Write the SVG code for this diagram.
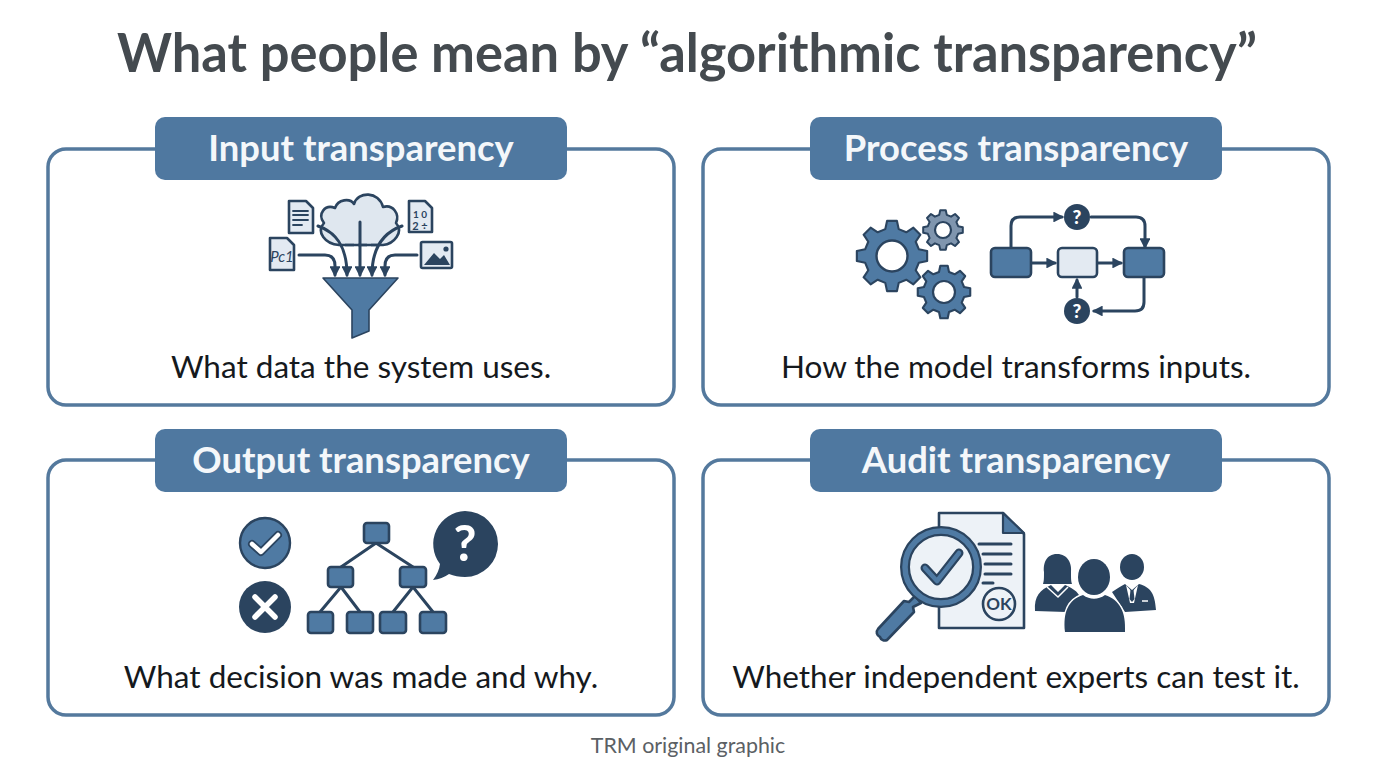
<svg xmlns="http://www.w3.org/2000/svg" width="1376" height="768" viewBox="0 0 1376 768">
<style>
text{font-family:"Lato","Noto Sans","Liberation Sans",sans-serif;text-anchor:middle}
.title{font-size:53px;font-weight:700;fill:#444a4f}
.hd{font-size:36.4px;font-weight:700;fill:#f4f7fa}
.cap{font-size:31.5px;font-weight:400;fill:#15191d}
.foot{font-size:21.4px;fill:#5b6064}
.card{fill:#fff;stroke:#54799d;stroke-width:3.5}
.hdr{fill:#4f78a0}
.o{stroke:#2b445f;stroke-width:2.6;stroke-linejoin:round;stroke-linecap:round}
.blue{fill:#4f7aa3}.pale{fill:#e3eaf2}.navy{fill:#2b445f}
.ln{fill:none;stroke:#2b445f;stroke-width:3;stroke-linecap:round;stroke-linejoin:round}
.qt{font-size:19px;font-weight:900;fill:#fff}
</style>
<defs>
<path id="gear" d="M75.7-18.9L99-13.9 99 13.9 75.7 18.9 66.8 40.2 79.9 60.2 60.2 79.9 40.2 66.8 18.9 75.7 13.9 99-13.9 99-18.9 75.7-40.2 66.8-60.2 79.9-79.9 60.2-66.8 40.2-75.7 18.9-99 13.9-99-13.9-75.7-18.9-66.8-40.2-79.9-60.2-60.2-79.9-40.2-66.8-18.9-75.7-13.9-99 13.9-99 18.9-75.7 40.2-66.8 60.2-79.9 79.9-60.2 66.8-40.2Z"/>
<marker id="ah" viewBox="0 0 10 10" refX="8" refY="5" markerWidth="3.6" markerHeight="3.6" orient="auto"><path d="M0 0L10 5 0 10Z" fill="#2b445f"/></marker>
</defs>
<rect width="1376" height="768" fill="#fff"/>
<text class="title" x="687" y="72" textLength="1140" lengthAdjust="spacingAndGlyphs">What people mean by “algorithmic transparency”</text>

<g id="node-input">
<rect class="card" x="48" y="149" width="626" height="256" rx="18"/>
<rect class="hdr" x="155" y="117" width="412" height="63" rx="10"/>
<text class="hd" x="361" y="161">Input transparency</text>
<path class="o" fill="#dfe7ef" d="M339 245C325 244 316 232 324 223C317 214 325 204 335 208C338 199 350 198 354 204C358 191 379 191 383 207C393 204 400 214 396 223C404 232 394 244 383 245Z"/>
<path d="M345 245H378" stroke="#2b445f" stroke-width="2.6" stroke-dasharray="9 4" fill="none"/>
<path class="o pale" d="M289 201H306L313 208V233H289Z"/>
<path class="o pale" d="M270 238H287L294 245V270H270Z"/>
<path class="o pale" d="M409 201H425L432 208V232H409Z"/>
<rect class="o pale" x="421" y="242" width="31" height="26" rx="1.5"/>
<path class="navy" d="M424 265L434 253 440 259 444 255 450 265Z"/><circle class="navy" cx="446" cy="249" r="2.6"/>
<path class="ln" style="stroke-width:1.8" d="M293 211H308M293 215H308M293 220H308M293 225H302"/>
<text x="282" y="262" font-size="15" fill="#2b445f" font-style="italic">Pc1</text>
<text x="420" y="218" font-size="10" fill="#2b445f" font-weight="700">1 0</text>
<text x="420" y="230" font-size="11" fill="#2b445f" font-weight="700">2 ÷</text>
<path d="M323 278H398L369 310V331L352 338V310Z" fill="#4f7aa3" stroke="#2b445f" stroke-width="1.6" stroke-linejoin="round"/>
<path class="ln" marker-end="url(#ah)" d="M299 255H325Q335 255 335 266V275"/>
<path class="ln" marker-end="url(#ah)" d="M318 226C335 232 347 245 347 275"/>
<path class="ln" marker-end="url(#ah)" d="M360 222V275"/>
<path class="ln" marker-end="url(#ah)" d="M402 226C385 232 372 245 372 275"/>
<path class="ln" marker-end="url(#ah)" d="M417 255H395Q385 255 385 266V275"/>
<text class="cap" x="361" y="378">What data the system uses.</text>
</g>

<g id="node-process">
<rect class="card" x="703" y="149" width="626" height="256" rx="18"/>
<rect class="hdr" x="810" y="117" width="412" height="63" rx="10"/>
<text class="hd" x="1016" y="161">Process transparency</text>
<use href="#gear" transform="translate(892 256) scale(.355)" fill="#4f7aa3" stroke="#2b445f" stroke-width="6" stroke-linejoin="round"/>
<circle cx="892" cy="256" r="15.5" fill="#fff" stroke="#2b445f" stroke-width="2.4"/>
<use href="#gear" transform="translate(943 230) scale(.2)" fill="#7f95ae" stroke="#2b445f" stroke-width="10" stroke-linejoin="round"/>
<circle cx="943" cy="230" r="8" fill="#fff" stroke="#2b445f" stroke-width="2.2"/>
<use href="#gear" transform="translate(944 292) scale(.265)" fill="#4f7aa3" stroke="#2b445f" stroke-width="8" stroke-linejoin="round"/>
<circle cx="944" cy="292" r="11" fill="#fff" stroke="#2b445f" stroke-width="2.2"/>
<path class="ln" marker-end="url(#ah)" d="M1011 248V226Q1011 217 1020 217H1062"/>
<path class="ln" marker-end="url(#ah)" d="M1091 217H1136Q1145 217 1145 226V247"/>
<path class="ln" marker-end="url(#ah)" d="M1031 263H1055"/>
<path class="ln" marker-end="url(#ah)" d="M1098 263H1121"/>
<path class="ln" marker-end="url(#ah)" d="M1144 278V302Q1144 311 1135 311H1094"/>
<path class="ln" marker-end="url(#ah)" d="M1077 297V280"/>
<rect class="o blue" x="991" y="248" width="40" height="29" rx="4"/>
<rect class="o pale" x="1058" y="248" width="39" height="29" rx="4"/>
<rect class="o blue" x="1124" y="248" width="40" height="29" rx="4"/>
<circle class="navy" cx="1077" cy="217" r="13"/><text class="qt" x="1077" y="224">?</text>
<circle class="navy" cx="1077" cy="311" r="13"/><text class="qt" x="1077" y="318">?</text>
<text class="cap" x="1016" y="378">How the model transforms inputs.</text>
</g>

<g id="node-output">
<rect class="card" x="48" y="460" width="626" height="255" rx="18"/>
<rect class="hdr" x="155" y="429" width="412" height="63" rx="10"/>
<text class="hd" x="361" y="473">Output transparency</text>
<circle class="blue" cx="265" cy="543" r="25" stroke="#2b445f" stroke-width="2.4"/>
<path d="M252 544L261 552 278 535" fill="none" stroke="#2b445f" stroke-width="8" stroke-linecap="round" stroke-linejoin="round"/>
<path d="M252 544L261 552 278 535" fill="none" stroke="#fff" stroke-width="4.5" stroke-linecap="round" stroke-linejoin="round"/>
<circle class="navy" cx="265" cy="607" r="26"/>
<path d="M255 597L275 617M275 597L255 617" stroke="#fff" stroke-width="5.5" stroke-linecap="round"/>
<path class="ln" d="M376 543L341 567M376 543L413 567M341 587L320 612M341 587L360 612M413 587L393 612M413 587L433 612"/>
<g class="o blue">
<rect x="364" y="523" width="25" height="20" rx="3"/>
<rect x="328" y="567" width="25" height="20" rx="3"/>
<rect x="400" y="567" width="26" height="20" rx="3"/>
<rect x="308" y="612" width="25" height="21" rx="3"/>
<rect x="347" y="612" width="26" height="21" rx="3"/>
<rect x="380" y="612" width="26" height="21" rx="3"/>
<rect x="420" y="612" width="26" height="21" rx="3"/>
</g>
<path class="navy" d="M465 511A33 33 0 0 1 465 577C459 577 454 576 449 574Q442 579 433 580Q439 572 440 564A33 33 0 0 1 465 511Z"/>
<text x="465" y="561" font-size="50" font-weight="700" fill="#fff">?</text>
<text class="cap" x="361" y="688">What decision was made and why.</text>
</g>

<g id="node-audit">
<rect class="card" x="703" y="460" width="626" height="255" rx="18"/>
<rect class="hdr" x="810" y="429" width="412" height="63" rx="10"/>
<text class="hd" x="1016" y="473">Audit transparency</text>
<path d="M939 513H1003L1024 534V628H939Z" fill="#edf2f7" stroke="#2b445f" stroke-width="2.6" stroke-linejoin="round"/>
<path d="M1003 513V533H1024Z" fill="#4f7aa3" stroke="#2b445f" stroke-width="2.2" stroke-linejoin="round"/>
<path class="ln" d="M979 544H1011M983 554H1011M985 564H1011M985 574H1011M983 583H993"/>
<circle cx="999" cy="604" r="16" fill="#edf2f7" stroke="#2b445f" stroke-width="2.6"/>
<text x="999" y="610" font-size="17" font-weight="700" fill="#2b445f">OK</text>
<path d="M915 596L909 602 904 601 878 629A5 5 0 0 0 880 637 5 5 0 0 0 887 640L914 612 913 607 921 603Z" fill="#4f7aa3" stroke="#2b445f" stroke-width="2.6" stroke-linejoin="round"/>
<circle cx="941" cy="567" r="36" fill="#edf2f7" stroke="#2b445f" stroke-width="10"/>
<circle cx="941" cy="567" r="36" fill="none" stroke="#4f7aa3" stroke-width="5.5"/>
<path d="M925 568L937 581 959 553" fill="none" stroke="#2b445f" stroke-width="9" stroke-linejoin="round" stroke-linecap="round"/>
<path d="M925 568L937 581 959 553" fill="none" stroke="#4f7aa3" stroke-width="4.5" stroke-linejoin="round" stroke-linecap="round"/>
<g class="navy">
<path d="M1057 554C1046 554 1043 564 1044 572C1044 578 1044 581 1043 584H1072C1071 581 1071 578 1071 572C1072 564 1068 554 1057 554Z"/>
<path d="M1035 611C1034 596 1040 590 1051 585L1058 592 1065 585C1070 587 1076 590 1079 595L1066 612Z"/>
<ellipse cx="1132" cy="567" rx="12" ry="13"/>
<path d="M1112 592C1116 589 1120 587 1125 584L1132 590 1139 584C1150 587 1155 593 1156 610L1125 612Z"/>
</g>
<path d="M1047 587L1058 597 1068 587" fill="none" stroke="#fff" stroke-width="1.5"/>
<path d="M1126 585L1132 592 1138 585 1134 603H1130Z" fill="#fff"/>
<path d="M1130.500 590H1133.500L1134.500 599 1132 602 1129.500 599Z" class="navy"/>
<path d="M1142 601H1148" stroke="#fff" stroke-width="1.5"/>
<g id="p" class="navy" stroke="#fff" stroke-width="3" paint-order="stroke">
<ellipse cx="1094" cy="577" rx="16" ry="18"/>
<path d="M1065 632C1063 612 1068 600 1083 595C1090 600 1098 600 1105 595C1120 600 1126 612 1125 632Z"/>
</g>
<text class="cap" x="1016" y="688">Whether independent experts can test it.</text>
</g>
<g id="connectors"/>
<text class="foot" x="688" y="753">TRM original graphic</text>
</svg>
